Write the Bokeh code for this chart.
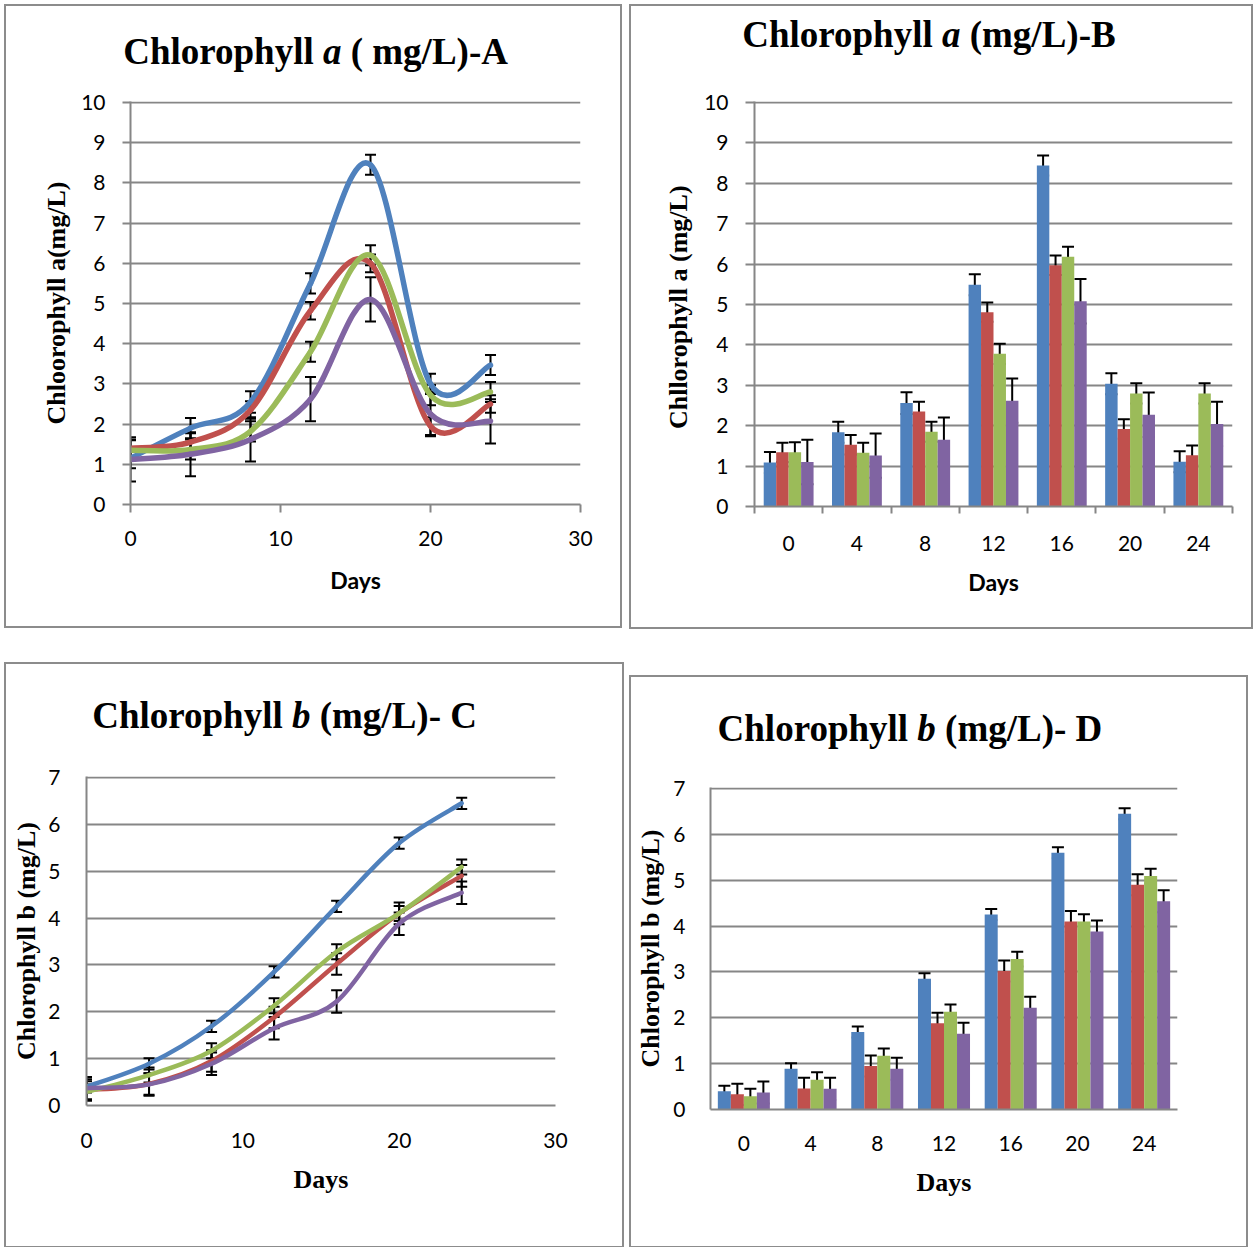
from bokeh.plotting import figure
from bokeh.models import (ColumnDataSource, Range1d, SingleIntervalTicker, FixedTicker,
                          Whisker, TeeHead, Spacer)
from bokeh.layouts import row, column
from bokeh.transform import dodge
from bokeh.core.properties import value
from bokeh.embed import file_html
from bokeh.resources import INLINE

# ---------------- data ----------------
days = [0, 4, 8, 12, 16, 20, 24]
day_labels = ["0", "4", "8", "12", "16", "20", "24"]
series_keys = ["s1", "s2", "s3", "s4"]
colors = ["#4F81BD", "#C0504D", "#9BBB59", "#8064A2"]

# Panel A (line chart, chlorophyll a)
chla_line_s1 = [1.15, 1.90, 2.55, 5.50, 8.45, 3.00, 3.47]
chla_line_s2 = [1.40, 1.55, 2.35, 4.82, 6.00, 1.95, 2.50]
chla_line_s3 = [1.35, 1.37, 1.82, 3.80, 6.20, 2.72, 2.80]
chla_line_s4 = [1.12, 1.25, 1.62, 2.62, 5.10, 2.25, 2.07]
chla_line_err_s1 = [0.25, 0.25, 0.27, 0.25, 0.25, 0.25, 0.25]
chla_line_err_s2 = [0.22, 0.22, 0.22, 0.22, 0.22, 0.22, 0.22]
chla_line_err_s3 = [0.25, 0.25, 0.25, 0.25, 0.25, 0.25, 0.25]
chla_line_err_s4 = [0.55, 0.55, 0.55, 0.55, 0.55, 0.55, 0.55]

# Panel B (bar chart, chlorophyll a)
chla_bar_s1 = [1.09, 1.84, 2.56, 5.49, 8.44, 3.04, 1.11]
chla_bar_s2 = [1.34, 1.53, 2.35, 4.81, 5.97, 1.92, 1.27]
chla_bar_s3 = [1.34, 1.33, 1.85, 3.78, 6.18, 2.80, 2.80]
chla_bar_s4 = [1.10, 1.26, 1.65, 2.62, 5.08, 2.27, 2.04]
chla_bar_err_s1 = [0.26, 0.26, 0.27, 0.26, 0.25, 0.26, 0.26]
chla_bar_err_s2 = [0.24, 0.24, 0.24, 0.24, 0.24, 0.24, 0.24]
chla_bar_err_s3 = [0.25, 0.25, 0.25, 0.25, 0.25, 0.25, 0.25]
chla_bar_err_s4 = [0.55, 0.55, 0.55, 0.55, 0.55, 0.55, 0.55]

# Panels C and D (chlorophyll b)
chlb_s1 = [0.40, 0.89, 1.69, 2.85, 4.25, 5.60, 6.45]
chlb_s2 = [0.33, 0.46, 0.95, 1.88, 3.02, 4.10, 4.90]
chlb_s3 = [0.29, 0.65, 1.17, 2.13, 3.28, 4.10, 5.09]
chlb_s4 = [0.37, 0.45, 0.89, 1.65, 2.22, 3.88, 4.54]
chlb_err_s1 = [0.12, 0.12, 0.12, 0.12, 0.12, 0.12, 0.12]
chlb_err_s2 = [0.23, 0.23, 0.23, 0.23, 0.23, 0.23, 0.23]
chlb_err_s3 = [0.16, 0.16, 0.16, 0.16, 0.16, 0.16, 0.16]
chlb_err_s4 = [0.24, 0.24, 0.24, 0.24, 0.24, 0.24, 0.24]

# titles: (before italic letter, italic letter, after)
title_A = ("Chlorophyll", "a", "( mg/L)-A")
title_B = ("Chlorophyll", "a", "(mg/L)-B")
title_C = ("Chlorophyll", "b", "(mg/L)- C")
title_D = ("Chlorophyll", "b", "(mg/L)- D")

# ---------------- helpers ----------------
GRID = "#868686"
FRAME_BORDER = "#8c8c8c"
TICK_FONT = "Lato"
SERIF = "Liberation Serif"
TSIZE = 37
BASE_FIX = 11  # rendered baseline sits this many px below the anchor


def title_fig(w, h, parts, start_x, base_from_top):
    """Title strip: pieces joined around the italic letter (x, y in px)."""
    t = figure(width=w, height=h, x_range=Range1d(0, w), y_range=Range1d(0, h),
               x_axis_type=None, y_axis_type=None, title=None,
               min_border=0, min_border_left=0, min_border_right=0,
               min_border_top=0, min_border_bottom=0,
               output_backend="svg", toolbar_location=None, tools="")
    if hasattr(t, "frame_align"):
        t.frame_align = False
    t.outline_line_color = None
    t.background_fill_color = "white"
    t.border_fill_color = "white"
    t.grid.visible = False
    yb = h - base_from_top + BASE_FIX
    ax = start_x + 5.418 * TSIZE      # start of the italic letter
    common = dict(text_font=value(SERIF), text_font_size=value(f"{TSIZE}px"),
                  text_baseline="alphabetic", text_color="black")
    t.text(x=[ax - 0.25 * TSIZE], y=[yb], text=[parts[0]], text_align="right",
           text_font_style="bold", **common)
    t.text(x=[ax], y=[yb], text=[parts[1]], text_align="left",
           text_font_style="bold italic", **common)
    t.text(x=[ax + 0.75 * TSIZE], y=[yb], text=[parts[2]], text_align="left",
           text_font_style="bold", **common)
    return t


def make_fig(w, h, left, right, top, bottom, xr, yr):
    p = figure(width=w, height=h, x_range=xr, y_range=yr, title=None,
               min_border_left=left, min_border_right=right,
               min_border_top=top, min_border_bottom=bottom,
               output_backend="svg", toolbar_location=None, tools="")
    if hasattr(p, "frame_align"):
        p.frame_align = False
    p.outline_line_color = None
    p.background_fill_color = "white"
    p.border_fill_color = "white"
    p.xgrid.visible = False
    p.ygrid.grid_line_color = GRID
    p.ygrid.grid_line_width = 2
    for ax in (p.xaxis[0], p.yaxis[0]):
        ax.axis_line_color = GRID
        ax.axis_line_width = 2
        ax.major_tick_line_color = GRID
        ax.major_tick_line_width = 2
        ax.minor_tick_line_color = GRID
        ax.minor_tick_line_width = 2
        ax.major_tick_in = 0
        ax.minor_tick_in = 0
        ax.minor_tick_out = 0
        ax.major_label_text_font = TICK_FONT
        ax.major_label_text_font_size = "21px"
        ax.major_label_text_color = "black"
        ax.axis_label_text_color = "black"
    return p


def smooth(xs, ys):
    n = len(xs)
    d = dict(x0=[], y0=[], x1=[], y1=[], cx0=[], cy0=[], cx1=[], cy1=[])
    for i in range(n - 1):
        xa, ya, xb, yb = xs[i], ys[i], xs[i + 1], ys[i + 1]
        xp, yp = (xs[i - 1], ys[i - 1]) if i > 0 else (xa, ya)
        xn, yn = (xs[i + 2], ys[i + 2]) if i + 2 < n else (xb, yb)
        d["x0"].append(xa); d["y0"].append(ya)
        d["x1"].append(xb); d["y1"].append(yb)
        d["cx0"].append(xa + (xb - xp) / 6.0); d["cy0"].append(ya + (yb - yp) / 6.0)
        d["cx1"].append(xb - (xn - xa) / 6.0); d["cy1"].append(yb - (yn - ya) / 6.0)
    return d


def whisk(p, src, base, up, lo, size=12):
    p.add_layout(Whisker(source=src, base=base, upper=up, lower=lo, dimension="height",
                         line_color="black", line_width=2,
                         upper_head=TeeHead(size=size, line_color="black", line_width=2),
                         lower_head=TeeHead(size=size, line_color="black", line_width=2)))


def err_source(vals, errs):
    data = dict(day=days)
    for k, v, e in zip(series_keys, vals, errs):
        data[k] = v
        data[k + "_up"] = [a + b for a, b in zip(v, e)]
        data[k + "_lo"] = [a - b for a, b in zip(v, e)]
    return ColumnDataSource(data)


def line_panel(p, vals, errs, lw, cap):
    src = err_source(vals, errs)
    for k, v, c in zip(series_keys, vals, colors):
        p.bezier(source=ColumnDataSource(smooth(days, v)), x0="x0", y0="y0", x1="x1", y1="y1",
                 cx0="cx0", cy0="cy0", cx1="cx1", cy1="cy1",
                 line_color=c, line_width=lw, line_cap="round")
    for k in series_keys:
        whisk(p, src, "day", k + "_up", k + "_lo", cap)


def bar_panel(p, vals, errs, bw):
    src = err_source(vals, errs)
    for i, (k, c) in enumerate(zip(series_keys, colors)):
        off = (i - 1.5) * bw
        p.vbar(x=dodge("day", off, range=p.x_range), top=k, bottom=0, width=bw,
               source=src, fill_color=c, line_color=None)
    for i, k in enumerate(series_keys):
        off = (i - 1.5) * bw
        whisk(p, src, dodge("day", off, range=p.x_range), k + "_up", k + "_lo", 12)


def category_axis(p, std):
    ax = p.xaxis[0]
    ax.ticker = FixedTicker(ticks=days, minor_ticks=[d - 2 for d in days] + [days[-1] + 2])
    ax.major_label_overrides = {d: s for d, s in zip(days, day_labels)}
    ax.major_tick_out = 0
    ax.major_label_standoff = std


def style_labels(p, xfont, xsize, std_x, std_y):
    p.yaxis[0].axis_label_text_font = SERIF
    p.yaxis[0].axis_label_text_font_style = "bold"
    p.yaxis[0].axis_label_text_font_size = "26px"
    p.yaxis[0].axis_label_standoff = std_y
    p.xaxis[0].axis_label_text_font = xfont
    p.xaxis[0].axis_label_text_font_style = "bold"
    p.xaxis[0].axis_label_text_font_size = xsize
    p.xaxis[0].axis_label_standoff = std_x


def boxed(*items):
    c = column(*items, spacing=0)
    c.styles = {"box-shadow": f"0 0 0 2px {FRAME_BORDER}"}
    return c


# ---------------- Panel A ----------------
tA = title_fig(614, 74, title_A, 116, 56.3)
pA = make_fig(614, 546, 124, 40, 21, 122, Range1d(0, 30), Range1d(0, 10 + 1 / 40.2))
pA.xaxis[0].ticker = SingleIntervalTicker(interval=10, num_minor_ticks=0)
pA.yaxis[0].ticker = SingleIntervalTicker(interval=1, num_minor_ticks=0)
pA.xaxis[0].major_tick_out = 8
pA.yaxis[0].major_tick_out = 8
pA.xaxis[0].major_label_standoff = 18
pA.yaxis[0].major_label_standoff = 17
pA.yaxis[0].axis_label = "Chloorophyll a(mg/L)"
pA.xaxis[0].axis_label = "Days"
style_labels(pA, TICK_FONT, "23px", 17, 7)
line_panel(pA, [chla_line_s1, chla_line_s2, chla_line_s3, chla_line_s4],
           [chla_line_err_s1, chla_line_err_s2, chla_line_err_s3, chla_line_err_s4], 5.5, 11)

# ---------------- Panel B ----------------
tB = title_fig(620, 74, title_B, 110, 39)
pB = make_fig(620, 547, 123, 19, 21, 121, Range1d(-2, 26), Range1d(0, 10 + 1 / 40.4))
category_axis(pB, 22)
pB.xaxis[0].minor_tick_out = 7
pB.yaxis[0].ticker = SingleIntervalTicker(interval=1, num_minor_ticks=0)
pB.yaxis[0].major_tick_out = 9
pB.yaxis[0].major_label_standoff = 17
pB.yaxis[0].axis_label = "Chllorophyll  a (mg/L)"
pB.xaxis[0].axis_label = "Days"
style_labels(pB, TICK_FONT, "23px", 14, 8)
bar_panel(pB, [chla_bar_s1, chla_bar_s2, chla_bar_s3, chla_bar_s4],
          [chla_bar_err_s1, chla_bar_err_s2, chla_bar_err_s3, chla_bar_err_s4], 0.73)

# ---------------- Panel C ----------------
tC = title_fig(616, 90, title_C, 85, 62)
pC = make_fig(616, 492, 80, 67, 22, 141, Range1d(0, 30), Range1d(0, 7 + 1 / 46.86))
pC.xaxis[0].ticker = SingleIntervalTicker(interval=10, num_minor_ticks=0)
pC.yaxis[0].ticker = SingleIntervalTicker(interval=1, num_minor_ticks=0)
pC.xaxis[0].major_tick_out = 0
pC.yaxis[0].major_tick_out = 0
pC.xaxis[0].major_label_standoff = 27
pC.yaxis[0].major_label_standoff = 26
pC.yaxis[0].axis_label = "Chlorophyll b (mg/L)"
pC.xaxis[0].axis_label = "Days"
style_labels(pC, SERIF, "26px", 14, 4)
line_panel(pC, [chlb_s1, chlb_s2, chlb_s3, chlb_s4],
           [chlb_err_s1, chlb_err_s2, chlb_err_s3, chlb_err_s4], 4.5, 11)

# ---------------- Panel D ----------------
tD = title_fig(615, 90, title_D, 85.4, 62.2)
pD = make_fig(615, 479, 79, 69, 20, 137, Range1d(-2, 26), Range1d(0, 7 + 1 / 45.86))
category_axis(pD, 26)
pD.yaxis[0].ticker = SingleIntervalTicker(interval=1, num_minor_ticks=0)
pD.yaxis[0].major_tick_out = 0
pD.yaxis[0].major_label_standoff = 25
pD.yaxis[0].axis_label = "Chlorophyll b (mg/L)"
pD.xaxis[0].axis_label = "Days"
style_labels(pD, SERIF, "26px", 14, 5)
bar_panel(pD, [chlb_s1, chlb_s2, chlb_s3, chlb_s4],
          [chlb_err_s1, chlb_err_s2, chlb_err_s3, chlb_err_s4], 0.78)

# ---------------- layout ----------------
row1 = row(Spacer(width=6, height=1), boxed(tA, pA), Spacer(width=11, height=1), boxed(tB, pB),
           spacing=0)
row2 = row(Spacer(width=6, height=1), boxed(tC, pC), Spacer(width=9, height=1),
           column(Spacer(width=615, height=13), boxed(tD, pD), spacing=0), spacing=0)
layout = column(Spacer(width=1, height=6), row1, Spacer(width=1, height=37), row2, spacing=0)

open("out.html", "w").write(file_html(layout, INLINE))
